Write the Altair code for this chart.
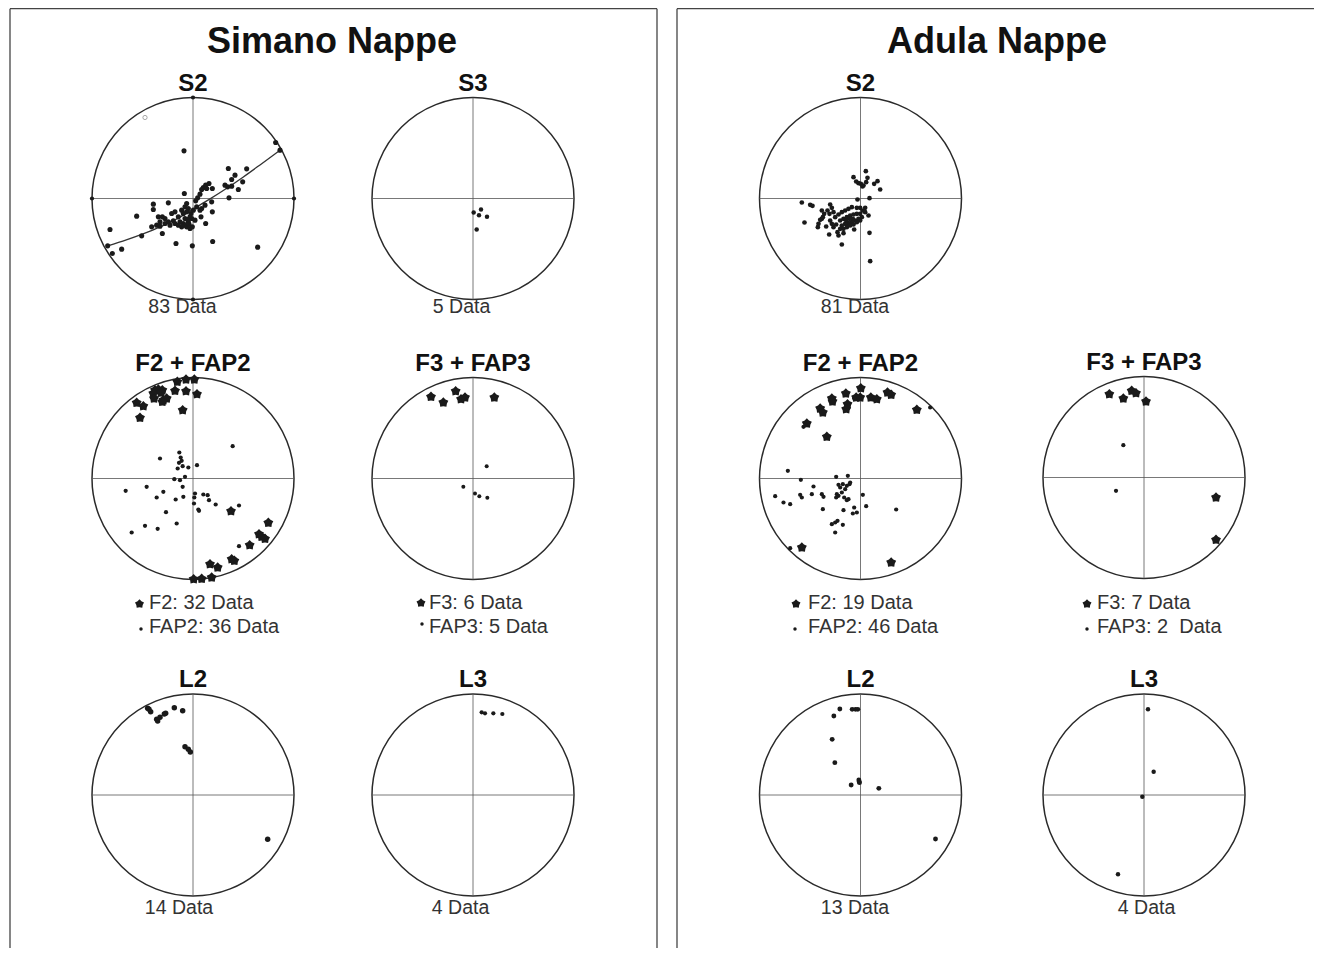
import altair as alt
import pandas as pd

# ---------------- layout of the stereonets (page pixels) ----------------
NET_RADIUS_PX = 101
READ_UNITS = 303          # primitive radius in the units the points are read in

NET_IDS = ["sim_s2", "sim_s3", "sim_f2", "sim_f3", "sim_l2", "sim_l3",
           "adu_s2", "adu_f2", "adu_f3", "adu_l2", "adu_l3"]
NET_TITLES = ["S2", "S3", "F2 + FAP2", "F3 + FAP3", "L2", "L3",
              "S2", "F2 + FAP2", "F3 + FAP3", "L2", "L3"]
NET_CX = [193, 473, 193, 473, 193, 473, 860.5, 860.5, 1144, 860.5, 1144]
NET_CY = [198.5, 198.5, 478.5, 478.5, 795, 795, 198.5, 478.5, 477.5, 795, 795]

PANEL_TITLES = ["Simano Nappe", "Adula Nappe"]
PANEL_TITLE_X = [332, 997]

COUNT_NETS = ["sim_s2", "sim_s3", "sim_l2", "sim_l3", "adu_s2", "adu_l2", "adu_l3"]
COUNT_TEXT = ["83 Data", "5 Data", "14 Data", "4 Data", "81 Data", "13 Data", "4 Data"]
COUNT_X = [182.5, 461.5, 179, 460.5, 855, 855, 1146.5]
COUNT_Y = [313, 313, 914, 914, 313, 914, 914]

LEGEND_TEXT = ["F2: 32 Data", "FAP2: 36 Data", "F3: 6 Data", "FAP3: 5 Data",
               "F2: 19 Data", "FAP2: 46 Data", "F3: 7 Data", "FAP3: 2\u00a0 Data"]
LEGEND_SYMBOL = ["star", "dot", "star", "dot", "star", "dot", "star", "dot"]
LEGEND_TEXT_X = [149, 149, 429, 429, 808, 808, 1097, 1097]
LEGEND_Y = [609, 633, 609, 633, 609, 633, 609, 633]
LEGEND_SYM_X = [139.5, 141, 421, 422, 796, 795, 1087, 1087]
LEGEND_SYM_Y = [604, 629, 603, 624, 604, 629, 604, 629]

# ---------------- data read from the nets (east, north; radius = 303) ----------------
SIM_S2_POLES = [
    (-27, 143), (-26, 15), (248, 168), (261, 145), (106, 90), (161, 89), (126, 70),
    (116, 57), (149, 50), (136, 27), (108, 2), (96, 40), (104, 35), (116, 37),
    (31, 33), (38, 40), (48, 45), (58, 30), (26, 27), (14, 2), (8, -7), (56, -10),
    (58, -40), (24, -55), (38, -75), (11, -25), (-74, -13), (-119, -17), (-119, -33),
    (-169, -53), (-104, -55), (-92, -55), (-84, -60), (-249, -93), (-256, -142),
    (-242, -165), (-214, -152), (-154, -112), (-51, -135), (-2, -142), (59, -129),
    (194, -146), (-92, -105), (-109, -80), (-99, -83), (-84, -75), (-74, -70),
    (-59, -67), (-64, -45), (-54, -40), (-44, -55), (-34, -35), (-24, -25), (-19, -15),
    (-14, -30), (-6, -45), (1, -35), (-24, -60), (-14, -70), (-29, -75), (-19, -85),
    (-9, -90), (-24, -80), (-39, -70), (-34, -85), (-69, -80), (-54, -75), (-44, -80),
    (-4, -60), (6, -65), (-9, -55), (-29, -45), (-19, -40), (21, -35), (26, -30),
    (36, -20), (41, 30), (21, 13), (-124, -85), (-99, -70), (-16, -63), (-12, -77),
    (-2, -85),
]
SIM_S2_GREAT_CIRCLE = [
    (-256, -142), (-200, -124), (-150, -106), (-100, -86), (-50, -62), (0, -32),
    (50, -2), (100, 30), (150, 64), (200, 100), (261, 145),
]
SIM_S2_OPEN = [(-144, 243)]
SIM_S2_TICKS = [(-303, 0), (303, 0), (0, 303), (0, -303)]

SIM_S3_POLES = [(2, -42), (24, -33), (18, -50), (42, -55), (11, -93)]

SIM_F2_AXES = [
    (-47, 290), (-21, 297), (4, 297), (-54, 263), (-21, 262), (12, 253),
    (-114, 265), (-104, 267), (-92, 265), (-119, 255), (-96, 257), (-117, 240),
    (-89, 235), (-79, 240), (-92, 230), (-169, 227), (-149, 217), (-159, 182),
    (-31, 205), (114, -98), (226, -133), (198, -167), (206, -175), (216, -181),
    (170, -200), (116, -242), (124, -247), (51, -257), (74, -267), (2, -302),
    (26, -301), (56, -297),
]
SIM_F2_PLANES = [
    (119, 97), (-99, 60), (-41, 78), (-37, 63), (-34, 53), (-42, 47), (-46, 30),
    (-31, 37), (-14, 33), (12, 40), (-56, -2), (-39, -5), (-24, 5), (-31, -25),
    (-202, -37), (-139, -25), (-89, -40), (-109, -57), (-52, -63), (-29, -55),
    (6, -45), (4, -57), (3, -75), (16, -93), (18, -97), (31, -48), (44, -50),
    (48, -65), (68, -78), (138, -81), (-81, -101), (-49, -135), (-144, -142),
    (-106, -151), (-184, -162), (138, -203),
]
SIM_F3_AXES = [(-126, 245), (-89, 228), (-52, 262), (-36, 238), (-24, 243), (64, 243)]
SIM_F3_PLANES = [(41, 37), (-29, -25), (6, -45), (19, -53), (43, -58)]

SIM_L2 = [(-136, 260), (-132, 257), (-127, 250), (-109, 227), (-106, 222), (-99, 233),
          (-86, 243), (-82, 245), (-56, 262), (-31, 253), (-24, 145), (-14, 137),
          (-8, 129), (224, -133)]
SIM_L3 = [(26, 248), (36, 245), (61, 245), (88, 243)]

ADU_S2_POLES = [
    (16, 82), (-21, 64), (-13, 51), (-6, 46), (1, 44), (9, 39), (17, 49), (21, 62),
    (41, 44), (51, 52), (59, 27), (6, 36), (-9, -3), (27, 1), (-176, -12), (-151, -19),
    (-144, -22), (-91, -18), (-86, -28), (-99, -36), (-93, -46), (-116, -36),
    (-116, -61), (-126, -76), (-128, -86), (-168, -72), (-121, -64), (-109, -46),
    (-81, -41), (-76, -56), (-66, -48), (-56, -41), (-46, -36), (-36, -31), (-26, -26),
    (-11, -28), (-1, -28), (14, -28), (24, -51), (-61, -66), (-51, -61), (-41, -56),
    (-31, -51), (-21, -48), (-11, -46), (-1, -46), (4, -56), (-6, -61), (-16, -66),
    (-26, -71), (-36, -74), (-46, -76), (-56, -81), (-61, -91), (-69, -101),
    (-51, -91), (-41, -86), (-31, -81), (-21, -78), (-11, -71), (-1, -66), (-23, -61),
    (-33, -61), (-43, -66), (-91, -66), (-86, -76), (-73, -78), (-103, -84),
    (-113, -56), (-94, -108), (-56, -138), (27, -103), (-19, -93), (29, -188),
    (14, -41), (7, -36), (-51, -104), (-66, -111), (-81, -86),
]
ADU_F2_AXES = [
    (1, 271), (-44, 255), (-86, 240), (-84, 231), (-39, 223), (-43, 208), (-121, 210),
    (-113, 198), (-161, 165), (-101, 125), (-13, 243), (-1, 243), (31, 243), (49, 238),
    (81, 258), (92, 251), (169, 206), (-176, -207), (92, -252),
]
ADU_F2_PLANES = [
    (209, 213), (-19, 241), (41, 240), (-171, 155), (-218, 23), (-179, -4), (-73, 5),
    (-38, 8), (-141, -24), (-146, -47), (-181, -49), (-176, -57), (-256, -53),
    (-231, -72), (-211, -77), (-116, -47), (-111, -55), (-71, -47), (-66, -52),
    (-61, -27), (-53, -17), (-46, -32), (-41, -22), (-33, -17), (-36, -62), (-41, -65),
    (7, -49), (17, -83), (107, -93), (-113, -92), (-19, -87), (-51, -95), (-23, -105),
    (-11, -102), (-69, -127), (-76, -132), (-86, -137), (-53, -139), (-76, -162),
    (-211, -209), (-66, -19), (-56, -42), (-49, -57), (-31, -12), (-73, -57),
    (-161, 163),
]
ADU_F3_AXES = [(-104, 250), (-62, 237), (-37, 260), (-24, 253), (6, 228), (216, -60), (216, -187)]
ADU_F3_PLANES = [(-62, 97), (-84, -40)]
ADU_L2 = [(-62, 258), (-80, 237), (-25, 257), (-15, 257), (-8, 257), (-85, 167), (-77, 97),
          (-28, 30), (-5, 45), (-4, 40), (-3, 37), (55, 20), (225, -132)]
ADU_L3 = [(12, 257), (29, 70), (-5, -5), (-78, -238)]

# ---------------- build tables ----------------
CENTER = {n: (cx, cy) for n, cx, cy in zip(NET_IDS, NET_CX, NET_CY)}


def place(net, pts, **extra):
    cx, cy = CENTER[net]
    k = NET_RADIUS_PX / READ_UNITS
    rows = []
    for i, (e, n) in enumerate(pts):
        r = {"net": net, "x": cx + e * k, "y": cy - n * k, "order": i}
        r.update(extra)
        rows.append(r)
    return rows


dots = []
for net, pts, size in [
    ("sim_s2", SIM_S2_POLES, 26), ("sim_s3", SIM_S3_POLES, 20),
    ("sim_f2", SIM_F2_PLANES, 18), ("sim_f3", SIM_F3_PLANES, 16),
    ("sim_l2", SIM_L2, 30), ("sim_l3", SIM_L3, 18),
    ("adu_s2", ADU_S2_POLES, 22), ("adu_f2", ADU_F2_PLANES, 18),
    ("adu_f3", ADU_F3_PLANES, 18), ("adu_l2", ADU_L2, 24), ("adu_l3", ADU_L3, 20),
    ("sim_s2", SIM_S2_TICKS, 18),
]:
    dots += place(net, pts, size=size)
dots_df = pd.DataFrame(dots)

stars = []
for net, pts in [("sim_f2", SIM_F2_AXES), ("sim_f3", SIM_F3_AXES),
                 ("adu_f2", ADU_F2_AXES), ("adu_f3", ADU_F3_AXES)]:
    stars += place(net, pts)
stars_df = pd.DataFrame(stars)

gc_df = pd.DataFrame(place("sim_s2", SIM_S2_GREAT_CIRCLE))
open_df = pd.DataFrame(place("sim_s2", SIM_S2_OPEN))

nets_df = pd.DataFrame({"net": NET_IDS, "title": NET_TITLES, "x": NET_CX, "y": NET_CY})
nets_df["title_y"] = nets_df["y"] - NET_RADIUS_PX - 7

cross = []
for n, cx, cy in zip(NET_IDS, NET_CX, NET_CY):
    cross.append({"x": cx - NET_RADIUS_PX, "x2": cx + NET_RADIUS_PX, "y": cy, "y2": cy})
    cross.append({"x": cx, "x2": cx, "y": cy - NET_RADIUS_PX, "y2": cy + NET_RADIUS_PX})
cross_df = pd.DataFrame(cross)

W, H = 1306, 940

BOX_LEFT = [10, 657]
BOX_RIGHT = [677, 8 + W]
BOX_TOP = 8.7
BOX_BOTTOM = 8 + H
box_df = pd.DataFrame([
    {"x": BOX_LEFT[0], "x2": BOX_LEFT[1], "y": BOX_TOP, "y2": BOX_TOP},
    {"x": BOX_LEFT[0], "x2": BOX_LEFT[0], "y": BOX_TOP, "y2": BOX_BOTTOM},
    {"x": BOX_LEFT[1], "x2": BOX_LEFT[1], "y": BOX_TOP, "y2": BOX_BOTTOM},
    {"x": BOX_RIGHT[0], "x2": BOX_RIGHT[1], "y": BOX_TOP, "y2": BOX_TOP},
    {"x": BOX_RIGHT[0], "x2": BOX_RIGHT[0], "y": BOX_TOP, "y2": BOX_BOTTOM},
])

panel_df = pd.DataFrame({"text": PANEL_TITLES, "x": PANEL_TITLE_X, "y": [53, 53]})
count_df = pd.DataFrame({"text": COUNT_TEXT, "x": COUNT_X, "y": COUNT_Y})
legend_df = pd.DataFrame({"text": LEGEND_TEXT, "x": LEGEND_TEXT_X, "y": LEGEND_Y,
                          "sx": LEGEND_SYM_X, "sy": LEGEND_SYM_Y, "sym": LEGEND_SYMBOL})

# ---------------- chart ----------------
XS = alt.Scale(domain=[8, 8 + W], nice=False, zero=False)
YS = alt.Scale(domain=[8, 8 + H], nice=False, zero=False, reverse=True)
FONT = "Liberation Sans"
STAR = ("M0,-1L0.41,-0.57L0.95,-0.31L0.67,0.22L0.59,0.81L0,0.7L-0.59,0.81"
        "L-0.67,0.22L-0.95,-0.31L-0.41,-0.57Z")
INK = "#1a1a1a"


def X(f):
    return alt.X(f, type="quantitative", scale=XS, axis=None)


def Y(f):
    return alt.Y(f, type="quantitative", scale=YS, axis=None)


boxes = alt.Chart(box_df).mark_rule(color="#444", strokeWidth=1.3).encode(
    x=X("x"), x2="x2", y=Y("y"), y2="y2")

circles = alt.Chart(nets_df).mark_point(
    shape="circle", filled=False, size=(2 * NET_RADIUS_PX) ** 2,
    color="#2a2a2a", strokeWidth=1.5, opacity=1).encode(x=X("x"), y=Y("y"))

crosses = alt.Chart(cross_df).mark_rule(color="#555", strokeWidth=0.8).encode(
    x=X("x"), x2="x2", y=Y("y"), y2="y2")

great_circle = alt.Chart(gc_df).mark_line(
    color="#333", strokeWidth=1.3, interpolate="monotone").encode(
    x=X("x"), y=Y("y"), order="order:Q")

dot_layer = alt.Chart(dots_df).mark_point(
    shape="circle", filled=True, color=INK, opacity=1).encode(
    x=X("x"), y=Y("y"), size=alt.Size("size:Q", scale=None, legend=None))

star_layer = alt.Chart(stars_df).mark_point(
    shape=STAR, filled=True, color=INK, size=110, opacity=1).encode(x=X("x"), y=Y("y"))

open_layer = alt.Chart(open_df).mark_point(
    shape="circle", filled=False, color="#666", size=18, strokeWidth=0.8).encode(
    x=X("x"), y=Y("y"))

panel_titles = alt.Chart(panel_df).mark_text(
    font=FONT, fontSize=36, fontWeight="bold", color="#111", align="center",
    baseline="alphabetic").encode(x=X("x"), y=Y("y"), text="text:N")

net_titles = alt.Chart(nets_df).mark_text(
    font=FONT, fontSize=24, fontWeight="bold", color="#111", align="center",
    baseline="alphabetic").encode(x=X("x"), y=Y("title_y"), text="title:N")

counts = alt.Chart(count_df).mark_text(
    font=FONT, fontSize=19.5, color="#333", align="center",
    baseline="alphabetic").encode(x=X("x"), y=Y("y"), text="text:N")

legend_text = alt.Chart(legend_df).mark_text(
    font=FONT, fontSize=20, color="#333", align="left",
    baseline="alphabetic").encode(x=X("x"), y=Y("y"), text="text:N")

legend_stars = alt.Chart(legend_df).transform_filter(
    alt.datum.sym == "star").mark_point(
    shape=STAR, filled=True, color=INK, size=90, opacity=1).encode(x=X("sx"), y=Y("sy"))

legend_dots = alt.Chart(legend_df).transform_filter(
    alt.datum.sym == "dot").mark_point(
    shape="circle", filled=True, color=INK, size=12, opacity=1).encode(x=X("sx"), y=Y("sy"))

chart = alt.layer(
    boxes, circles, crosses, great_circle, dot_layer, star_layer, open_layer,
    panel_titles, net_titles, counts, legend_text, legend_stars, legend_dots,
).properties(
    width=W, height=H, padding=0, background="white",
    autosize=alt.AutoSizeParams(type="none"),
).configure_view(stroke=None)

chart.save("out.html", embed_options={"renderer": "svg", "actions": False})
